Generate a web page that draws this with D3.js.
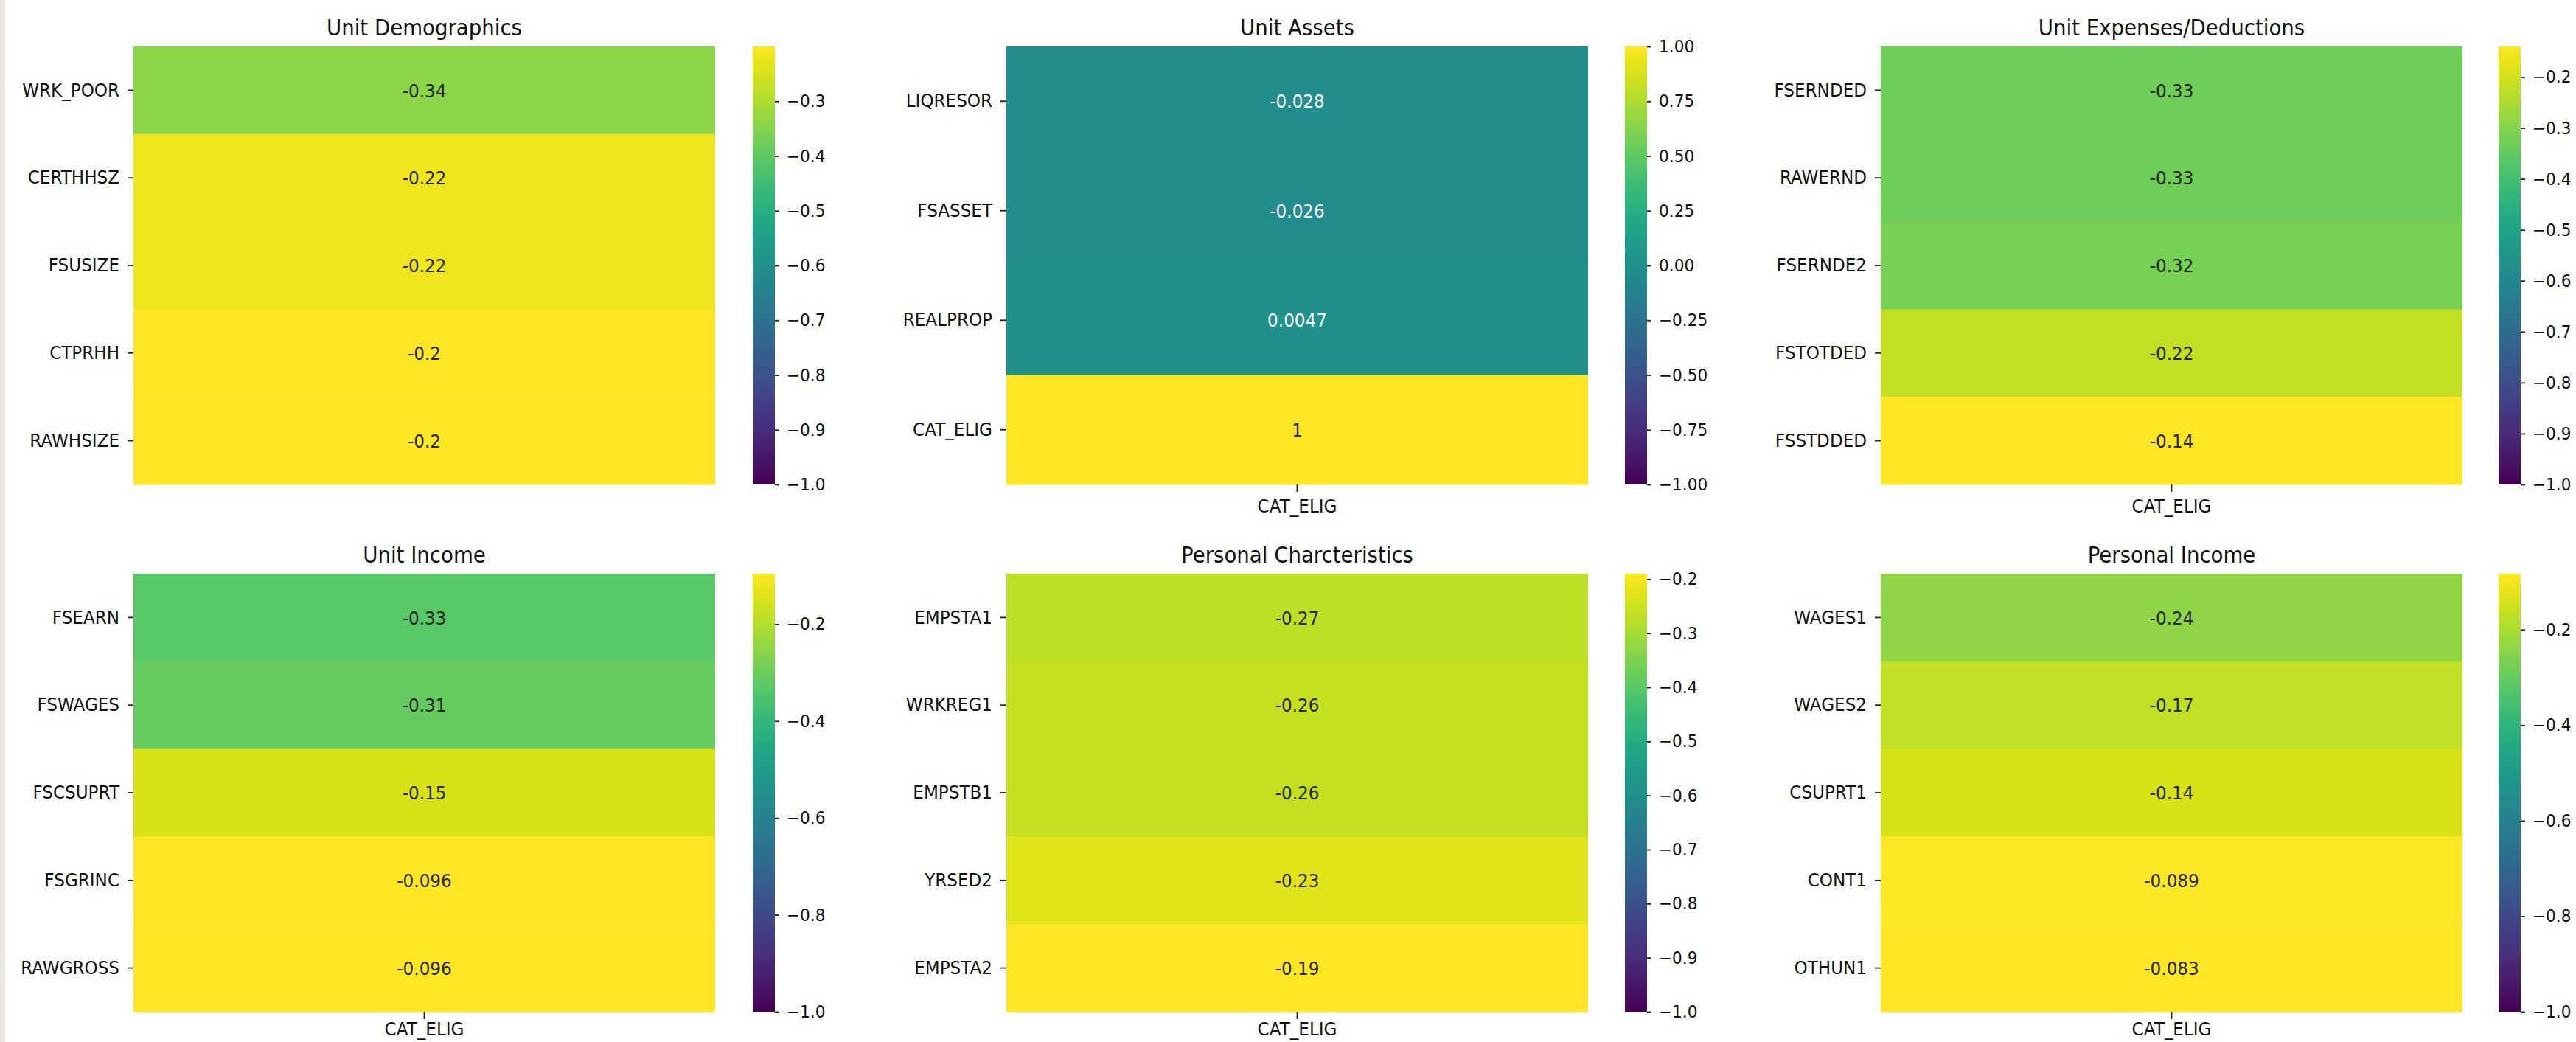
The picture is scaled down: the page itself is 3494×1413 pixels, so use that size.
<!DOCTYPE html>
<html>
<head>
<meta charset="utf-8">
<script src="https://cdn.jsdelivr.net/npm/d3@7"></script>
<style>
  body { margin: 0; background: #fff; }
  svg { display: block; }
</style>
</head>
<body>
<div id="chart"></div>
<script>
// data
var demographicsVars = ["WRK_POOR", "CERTHHSZ", "FSUSIZE", "CTPRHH", "RAWHSIZE"];
var demographicsCorr = [-0.34, -0.22, -0.22, -0.2, -0.2];
var assetsVars = ["LIQRESOR", "FSASSET", "REALPROP", "CAT_ELIG"];
var assetsCorr = [-0.028, -0.026, 0.0047, 1];
var expensesVars = ["FSERNDED", "RAWERND", "FSERNDE2", "FSTOTDED", "FSSTDDED"];
var expensesCorr = [-0.33, -0.33, -0.32, -0.22, -0.14];
var incomeVars = ["FSEARN", "FSWAGES", "FSCSUPRT", "FSGRINC", "RAWGROSS"];
var incomeCorr = [-0.33, -0.31, -0.15, -0.096, -0.096];
var personalVars = ["EMPSTA1", "WRKREG1", "EMPSTB1", "YRSED2", "EMPSTA2"];
var personalCorr = [-0.27, -0.26, -0.26, -0.23, -0.19];
var persIncomeVars = ["WAGES1", "WAGES2", "CSUPRT1", "CONT1", "OTHUN1"];
var persIncomeCorr = [-0.24, -0.17, -0.14, -0.089, -0.083];

var titles = ["Unit Demographics", "Unit Assets", "Unit Expenses/Deductions",
              "Unit Income", "Personal Charcteristics", "Personal Income"];
var targetVar = ["CAT_ELIG"];

var ticksDemographics = [-0.3, -0.4, -0.5, -0.6, -0.7, -0.8, -0.9, -1.0];
var ticksAssets = [1.0, 0.75, 0.5, 0.25, 0.0, -0.25, -0.5, -0.75, -1.0];
var ticksExpenses = [-0.2, -0.3, -0.4, -0.5, -0.6, -0.7, -0.8, -0.9, -1.0];
var ticksIncome = [-0.2, -0.4, -0.6, -0.8, -1.0];
var ticksPersonal = [-0.2, -0.3, -0.4, -0.5, -0.6, -0.7, -0.8, -0.9, -1.0];
var ticksPersIncome = [-0.2, -0.4, -0.6, -0.8, -1.0];

var panels = [
  { title: titles[0], vars: demographicsVars, corr: demographicsCorr, ticks: ticksDemographics, fmt: ".1f", xlab: false },
  { title: titles[1], vars: assetsVars, corr: assetsCorr, ticks: ticksAssets, fmt: ".2f", xlab: true },
  { title: titles[2], vars: expensesVars, corr: expensesCorr, ticks: ticksExpenses, fmt: ".1f", xlab: true },
  { title: titles[3], vars: incomeVars, corr: incomeCorr, ticks: ticksIncome, fmt: ".1f", xlab: true },
  { title: titles[4], vars: personalVars, corr: personalCorr, ticks: ticksPersonal, fmt: ".1f", xlab: true },
  { title: titles[5], vars: persIncomeVars, corr: persIncomeCorr, ticks: ticksPersIncome, fmt: ".1f", xlab: true }
];

// layout
var w = 3494;
var h = 1413;
var colLeft = [181, 1365, 2551];
var rowTop = [63, 778];
var hmW = 789;
var hmH = 594;
var cbLeft = [1021, 2204, 3389];
var cbW = 30;
var xLabPad = [10, 4];
var fontFam = "DejaVu Sans, Verdana, sans-serif";
var tickFont = 25.5;
var cbarFont = 23.5;
var titleFont = 30.5;
var vmin = -1;

var annotLocale = d3.formatLocale({ decimal: ".", thousands: ",", grouping: [3], currency: ["", ""], minus: "-" });
var annotFmt = annotLocale.format(".2~g");

function luminance(c) {
  var rgb = d3.rgb(c);
  var lin = [rgb.r, rgb.g, rgb.b].map(function (v) {
    v = v / 255;
    return v <= 0.03928 ? v / 12.92 : Math.pow((v + 0.055) / 1.055, 2.4);
  });
  return 0.2126 * lin[0] + 0.7152 * lin[1] + 0.0722 * lin[2];
}

var svg = d3.select("#chart").append("svg").attr("width", w).attr("height", h);
svg.append("rect").attr("width", w).attr("height", h).attr("fill", "#fff");
svg.append("rect").attr("x", 0).attr("y", 0).attr("width", 7).attr("height", h).attr("fill", "#e8e6e1");

// colorbar gradient
var defs = svg.append("defs");
var grad = defs.append("linearGradient").attr("id", "viridis")
  .attr("x1", 0).attr("y1", 1).attr("x2", 0).attr("y2", 0);
d3.range(0, 1.0001, 0.025).forEach(function (t) {
  grad.append("stop").attr("offset", t).attr("stop-color", d3.interpolateViridis(t));
});

panels.forEach(function (p, k) {
  var col = k % 3;
  var row = Math.floor(k / 3);
  var left = colLeft[col];
  var top = rowTop[row];
  var vmax = d3.max(p.corr);
  var color = d3.scaleSequential(d3.interpolateViridis).domain([vmin, vmax]);

  var yScale = d3.scaleBand().domain(p.vars).range([top, top + hmH]);
  var xScale = d3.scaleBand().domain(targetVar).range([left, left + hmW]);

  var g = svg.append("g");

  // cells
  var cells = p.vars.map(function (v, i) { return { name: v, value: p.corr[i] }; });
  g.selectAll("rect.cell")
    .data(cells)
    .enter()
    .append("rect")
    .attr("class", "cell")
    .attr("x", xScale("CAT_ELIG"))
    .attr("y", function (d) { return yScale(d.name); })
    .attr("width", xScale.bandwidth())
    .attr("height", yScale.bandwidth() + 0.5)
    .attr("fill", function (d) { return color(d.value); });

  // annotations
  g.selectAll("text.annot")
    .data(cells)
    .enter()
    .append("text")
    .attr("class", "annot")
    .attr("x", xScale("CAT_ELIG") + xScale.bandwidth() / 2)
    .attr("y", function (d) { return yScale(d.name) + yScale.bandwidth() / 2; })
    .attr("dy", "0.36em")
    .attr("text-anchor", "middle")
    .attr("font-family", fontFam)
    .attr("font-size", tickFont)
    .attr("fill", function (d) { return luminance(color(d.value)) > 0.408 ? "#262626" : "#ffffff"; })
    .text(function (d) { return annotFmt(d.value); });

  // y axis
  var yAxis = d3.axisLeft(yScale).tickSize(8).tickPadding(11);
  var ya = svg.append("g").attr("transform", "translate(" + left + ",0)").call(yAxis);
  ya.select(".domain").remove();

  // x axis
  if (p.xlab) {
    var xAxis = d3.axisBottom(xScale).tickSize(10).tickPadding(xLabPad[row]);
    var xa = svg.append("g").attr("transform", "translate(0," + (top + hmH) + ")").call(xAxis);
    xa.select(".domain").remove();
  }

  // title
  svg.append("text")
    .attr("x", left + hmW / 2)
    .attr("y", top - 15)
    .attr("text-anchor", "middle")
    .attr("font-family", fontFam)
    .attr("font-size", titleFont)
    .attr("fill", "#111")
    .text(p.title);

  // colorbar
  var cbScale = d3.scaleLinear().domain([vmin, vmax]).range([top + hmH, top]);
  svg.append("rect")
    .attr("x", cbLeft[col])
    .attr("y", top)
    .attr("width", cbW)
    .attr("height", hmH)
    .attr("fill", "url(#viridis)");
  var cbAxis = d3.axisRight(cbScale).tickValues(p.ticks).tickFormat(d3.format(p.fmt)).tickSize(6).tickPadding(10);
  var cba = svg.append("g").attr("class", "cbar").attr("transform", "translate(" + (cbLeft[col] + cbW) + ",0)").call(cbAxis);
  cba.select(".domain").remove();
});

svg.selectAll(".tick text")
  .attr("font-family", fontFam)
  .attr("font-size", tickFont)
  .attr("fill", "#111");
svg.selectAll(".cbar .tick text").attr("font-size", cbarFont);
svg.selectAll(".tick line").attr("stroke", "#222").attr("stroke-width", 1.8);

// narrow the glyphs a little, as in the source picture
svg.selectAll("text").each(function () {
  var squeeze = this.closest(".cbar") ? 0.92 : 0.905;
  var len = this.getComputedTextLength();
  d3.select(this).attr("textLength", len * squeeze).attr("lengthAdjust", "spacingAndGlyphs");
});
</script>
</body>
</html>
